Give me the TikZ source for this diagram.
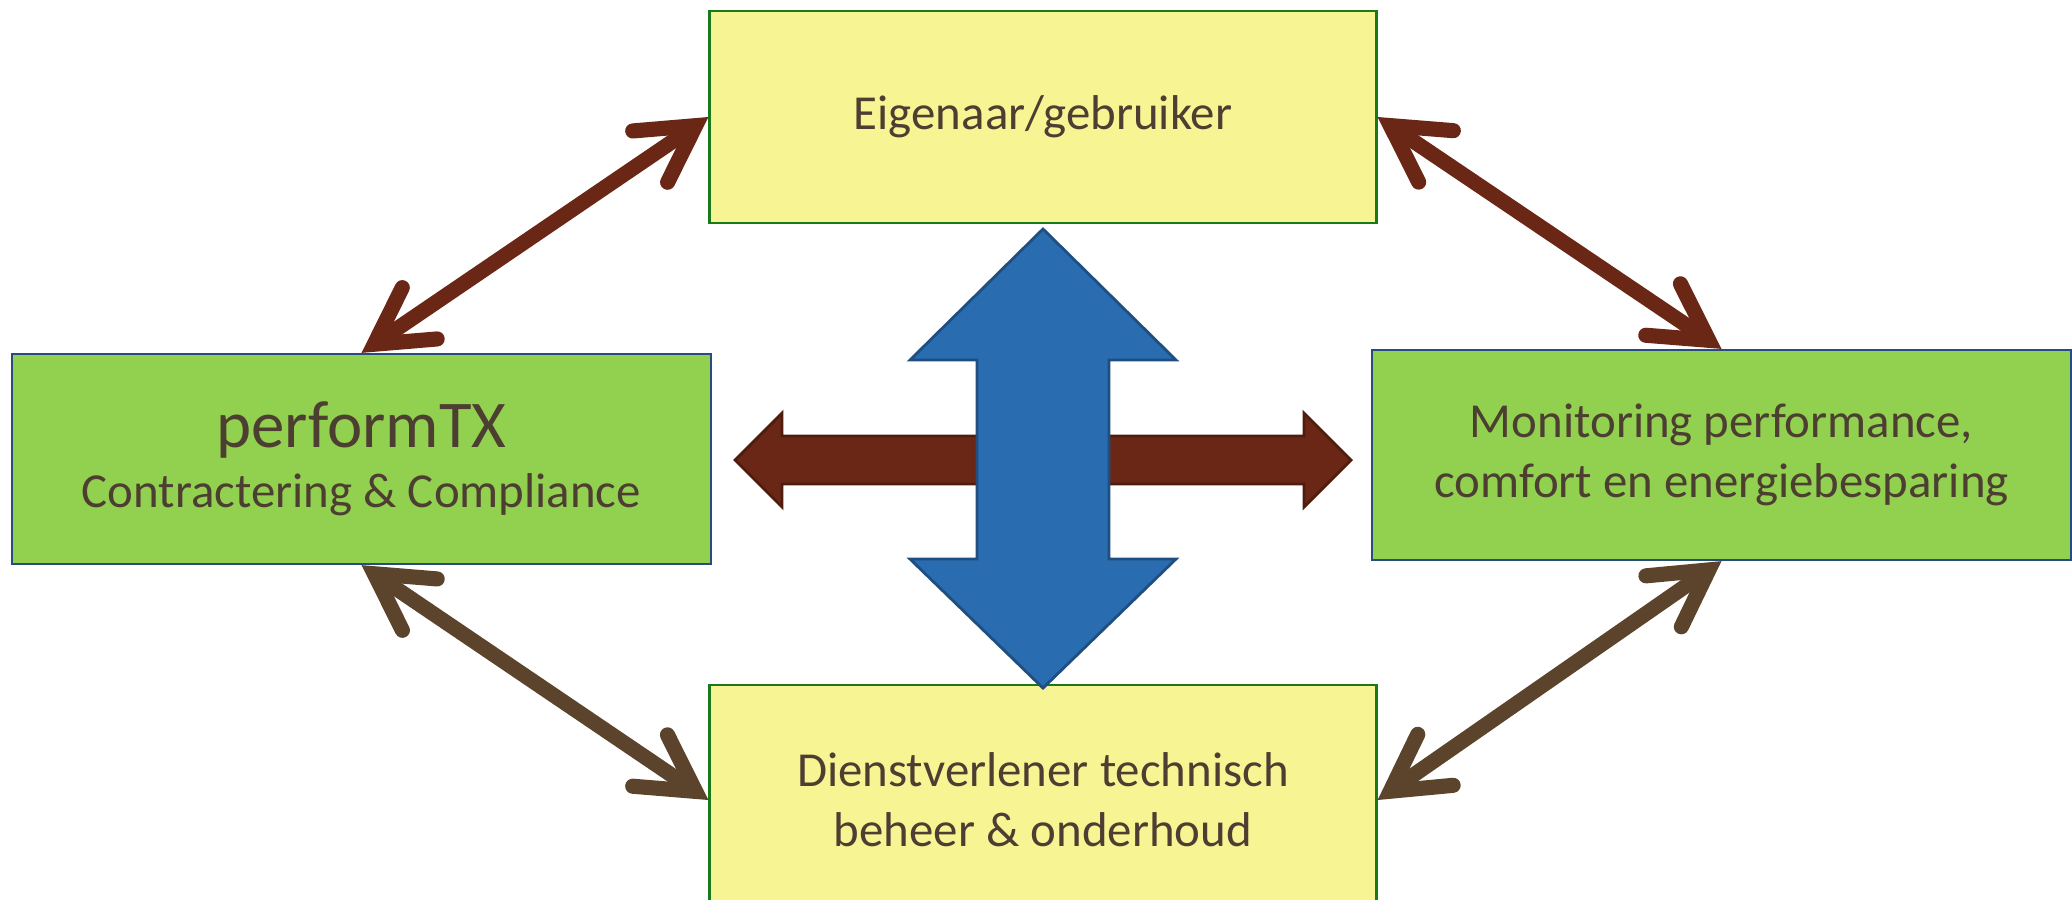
\documentclass[tikz,border=0pt]{standalone}
\usepackage{fontspec}
\setmainfont{Carlito}
\usetikzlibrary{arrows.meta}

\definecolor{boxyellow}{RGB}{246,244,147}
\definecolor{boxgreen}{RGB}{146,208,80}
\definecolor{yellowline}{RGB}{26,122,26}
\definecolor{greenline}{RGB}{41,76,128}
\definecolor{linkred}{RGB}{107,39,22}
\definecolor{linkbrown}{RGB}{92,67,43}
\definecolor{arrowblue}{RGB}{42,108,176}
\definecolor{arrowblueline}{RGB}{31,78,128}
\definecolor{arrowredline}{RGB}{80,28,14}
\definecolor{labeltext}{RGB}{77,62,50}

\tikzset{barb/.tip={Straight Barb[length=5.5mm,width=6.2mm,line cap=round]}}

\begin{document}
\begin{tikzpicture}[x=0.01cm,y=-0.01cm,
        party/.style={draw=yellowline,fill=boxyellow,line width=0.8pt,text=labeltext,align=center,
            minimum width=6.66cm,minimum height=2.12cm,font=\fontsize{13.9}{17}\selectfont},
        tool/.style={party,draw=greenline,fill=boxgreen,line width=0.6pt,minimum width=6.98cm,minimum height=2.1cm},
        link/.style={line width=4.3pt,barb-barb},
        bigarrow/.style={line width=0.8pt,line join=miter}]
    \useasboundingbox (0,0) rectangle (2072,899);
    % boxes
    \node[party] (own) at (1043,117) {Eigenaar/gebruiker};
    \node[party,minimum height=2.3cm] (svc) at (1043,800) {Dienstverlener technisch\\beheer \& onderhoud};
    \node[tool] (ptx) at (361.5,459) {{\fontsize{19}{23}\selectfont performTX}\\Contractering \& Compliance};
    \node[tool] (mon) at (1721.5,455) {Monitoring performance,\\comfort en energiebesparing};
    % big arrows in the middle
    \filldraw[bigarrow,fill=linkred,draw=arrowredline] (735,460) -- (782,413) -- (782,436) -- (1304,436) -- (1304,413)
        -- (1351,460) -- (1304,507) -- (1304,484) -- (782,484) -- (782,507) -- cycle;
    \filldraw[bigarrow,fill=arrowblue,draw=arrowblueline] (1043,229) -- (1176,360) -- (1109,360) -- (1109,559) -- (1176,559)
        -- (1043,688) -- (910,559) -- (977,559) -- (977,360) -- (910,360) -- cycle;
    % links
    \draw[link,linkred] (ptx.north) -- (own.west);
    \draw[link,linkred] (own.east) -- (mon.north);
    \draw[link,linkbrown] (ptx.south) -- (svc.west);
    \draw[link,linkbrown] (mon.south) -- (svc.east);
\end{tikzpicture}
\end{document}
